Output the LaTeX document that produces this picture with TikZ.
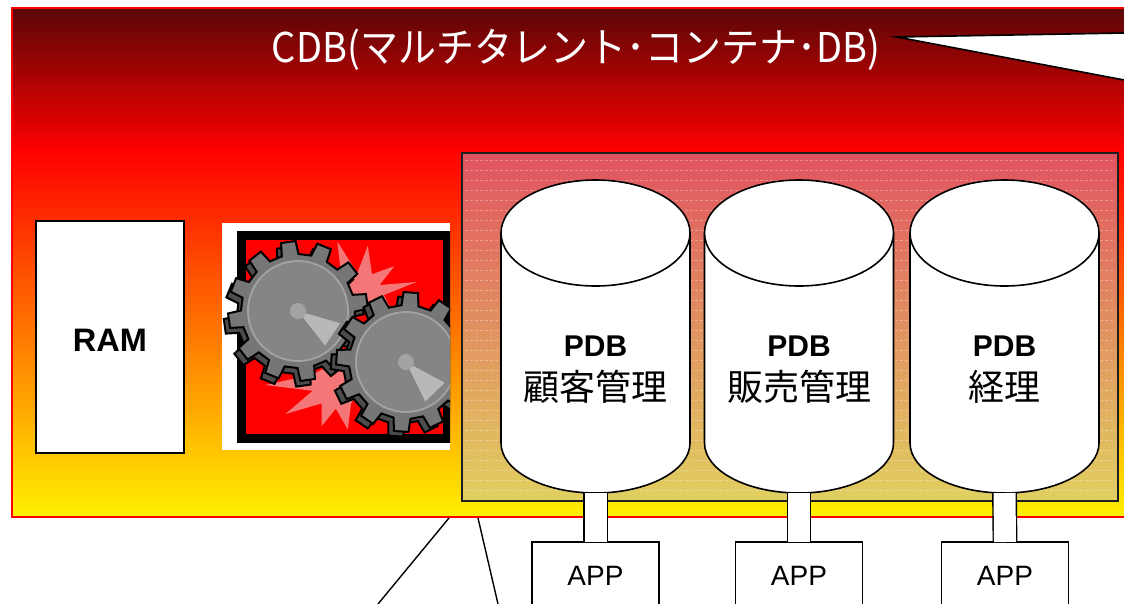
\documentclass[tikz,border=0pt]{standalone}
\usepackage{fontspec}
\usepackage{graphicx}
\setmainfont{Liberation Sans}
\newfontfamily\jpfont{Noto Sans CJK JP}
\usetikzlibrary{calc}

\definecolor{cdbdark}{HTML}{5A0606}
\definecolor{cdbred}{HTML}{FF0000}
\definecolor{cdbyellow}{HTML}{FFF000}
\definecolor{veil}{RGB}{190,182,214}
\definecolor{sparkpink}{HTML}{F47676}
\definecolor{gearbody}{HTML}{858585}
\definecolor{geartooth}{HTML}{767676}
\definecolor{gearside}{HTML}{4C4C4C}
\definecolor{gearrim}{HTML}{A3A3A3}
\definecolor{gearlight}{HTML}{B8B8B8}

\newcommand\px[1]{\fontsize{#1}{#1}\selectfont}

\tikzset{
  plainbox/.style={draw=black, fill=white, line width=1.6pt, inner sep=0pt, outer sep=0pt},
  stub/.style={draw=black, line width=1.4pt, double=white, double distance=22pt},
  zoomline/.style={draw=black, line width=1.4pt},
  lbl/.style={anchor=base, inner sep=0pt},
  gearicon/.pic={
    % extruded side of the gear
    \filldraw[fill=gearside, draw=black, line width=2pt, shift={(-5,5)}]
      (-8.5:57pt) \foreach \a in {0,30,...,330} { -- (\a-8.5:57pt) -- (\a-6:70pt) -- (\a+6:70pt) -- (\a+8.5:57pt) } -- cycle;
    % front face with teeth
    \filldraw[fill=geartooth, draw=black, line width=2pt]
      (-8.5:57pt) \foreach \a in {0,30,...,330} { -- (\a-8.5:57pt) -- (\a-6:70pt) -- (\a+6:70pt) -- (\a+8.5:57pt) } -- cycle;
    \filldraw[fill=gearbody, draw=gearrim, line width=1.8pt] (0,0) circle[radius=50pt];
    \fill[gearlight] (0,0) -- (40,18) -- (22,38) -- cycle;
    \fill[gearrim] (0,0) circle[radius=8pt];
  }
}

% one pluggable database drawn as a cylinder: name, centre x, label
\newcommand\drawpdb[3]{%
  \fill[white] (#2-94.5,233) -- (#2-94.5,443)
    arc[start angle=180, end angle=360, x radius=94.5pt, y radius=50pt]
    -- (#2+94.5,233) -- cycle;
  \draw[line width=1.6pt] (#2-94.5,233) -- (#2-94.5,443)
    arc[start angle=180, end angle=360, x radius=94.5pt, y radius=50pt]
    -- (#2+94.5,233);
  \filldraw[fill=white, line width=1.6pt] (#2,233) ellipse[x radius=94.5pt, y radius=53pt];
  \node[inner sep=0pt, outer sep=0pt, minimum width=189pt, minimum height=313pt] (#1) at (#2,336.5) {};
  \node[lbl, font=\bfseries\px{30}] (#1-kind) at (#2,356) {PDB};
  \node[lbl, font=\jpfont\px{36}] (#1-name) at (#2,400) {#3};
}

\begin{document}
\begin{tikzpicture}[x=1pt, y=-1pt]
\useasboundingbox (0,0) rectangle (1124,603);
\clip (0,0) rectangle (1124,603);
\fill[white] (0,0) rectangle (1124,603);

% container database background
\shade[top color=cdbdark, bottom color=cdbred] (12,8) rectangle (1140,151);
\shade[top color=cdbred, bottom color=cdbyellow] (12,150) rectangle (1140,517);
\node[draw=red, line width=2pt, inner sep=0pt, outer sep=0pt,
      minimum width=1128pt, minimum height=509pt, anchor=north west] (cdb) at (12,8) {};

% title and its callout
\node[lbl, text=white, font=\jpfont\px{41}] (title) at (576,62)
  {\resizebox{608pt}{\height}{CDB(マルチタレント･コンテナ･DB)}};
\coordinate (tip) at (897,37);
\filldraw[fill=white, draw=black, line width=1.6pt] (tip) -- (1130,32.9) -- (1130,81.1) -- cycle;

% memory
\node[plainbox, line width=2pt, minimum width=148pt, minimum height=232pt] (ram) at (110,337) {};
\node[font=\bfseries\px{32.5}, inner sep=0pt] (ram-label) at (110,340.5) {RAM};

% background processes icon
\begin{scope}
  \clip (222,223) rectangle (450,450);
  \fill[white] (222,223) rectangle (450,450);
  \fill[red] (241.5,235.5) rectangle (447.5,438.5);
  \fill[sparkpink, shift={(360,295)}] (113:58pt)
    \foreach \a/\r in {97/22, 81/50, 60/24, 40/45, 27/22, 13/58, 0/24, -27/36, -60/18, -120/18, 180/18, 145/22}
    { -- (\a:\r pt) } -- cycle;
  \fill[sparkpink, shift={(340,385)}] (160:30pt)
    \foreach \a/\r in {180/75, 192/28, 208/62, 225/26, 246/45, 260/24, 280/45, 300/22, 0/20, 60/20, 120/22}
    { -- (\a:\r pt) } -- cycle;
  \draw[black, line width=9pt] (241.5,235.5) rectangle (447.5,438.5);
  \pic[rotate=8] at (298,311) {gearicon};
  \pic[rotate=-4] at (406,362) {gearicon};
\end{scope}

% pluggable database area
\node[draw=black!88, line width=2pt, inner sep=0pt, outer sep=0pt,
      fill=veil, fill opacity=0.45, minimum width=656pt, minimum height=348pt,
      anchor=north west] (pdbarea) at (462,153) {};
\foreach \yy in {160,170,...,495}
  \draw[white, opacity=0.3, line width=0.7pt, dash pattern=on 3pt off 2pt] (465,\yy) -- (1115,\yy);

\drawpdb{pdbA}{595.5}{顧客管理}
\drawpdb{pdbB}{799}{販売管理}
\drawpdb{pdbC}{1004.5}{経理}

% applications
\node[plainbox, minimum width=127pt, minimum height=68pt] (appA) at (595.5,576) {};
\node[plainbox, minimum width=127pt, minimum height=68pt] (appB) at (799,576) {};
\node[plainbox, minimum width=127pt, minimum height=68pt] (appC) at (1005,576) {};
\node[lbl, font=\px{28}] (appA-label) at (595.5,585) {APP};
\node[lbl, font=\px{28}] (appB-label) at (799,585) {APP};
\node[lbl, font=\px{28}] (appC-label) at (1005,585) {APP};

\draw[stub] (pdbA.south) -- (appA.north);
\draw[stub] (pdbB.south) -- (appB.north);
\draw[stub] (pdbC.south) -- (appC.north);

% lines leading to the detail below
\coordinate (zoomA) at (449,518);
\coordinate (zoomB) at (478,518);
\coordinate (zoomAend) at (378,604);
\coordinate (zoomBend) at (498,604);
\draw[zoomline] (zoomA) -- (zoomAend);
\draw[zoomline] (zoomB) -- (zoomBend);
\end{tikzpicture}
\end{document}
